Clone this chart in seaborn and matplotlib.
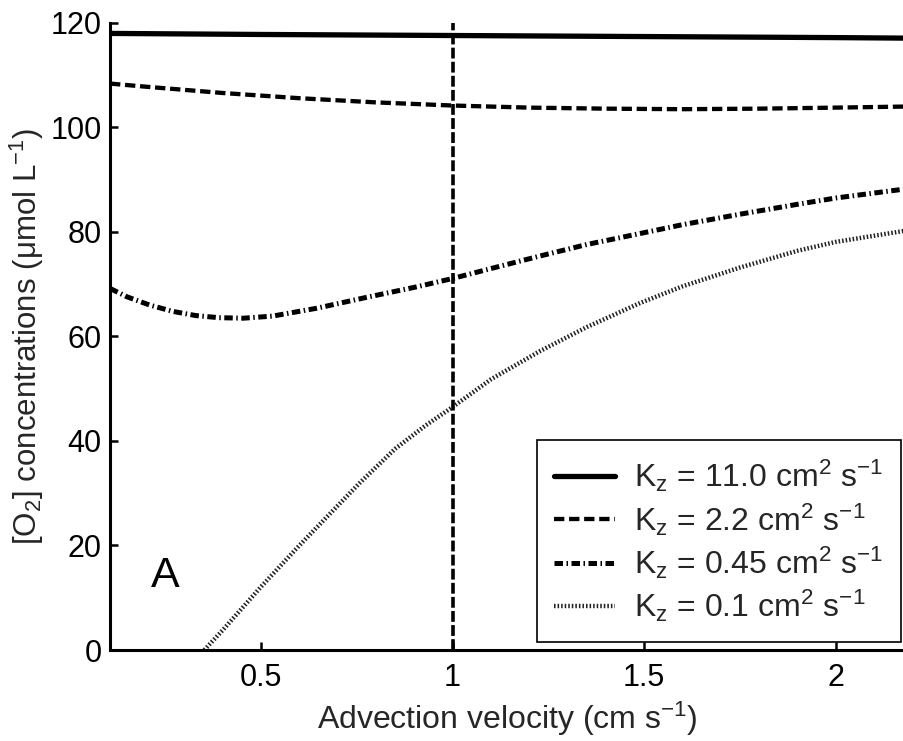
import matplotlib
matplotlib.use("Agg")
import matplotlib.pyplot as plt
import seaborn as sns
import pandas as pd

# ---- data ----
x_k110 = [0.106, 0.5, 1.0, 1.5, 2.0, 2.178]
y_k110 = [118.0, 117.8, 117.6, 117.4, 117.2, 117.1]

x_k22 = [0.106, 0.2, 0.3, 0.4, 0.5, 0.6, 0.7, 0.8, 0.9, 1.0, 1.2, 1.4, 1.6, 1.8, 2.0, 2.178]
y_k22 = [108.4, 107.8, 107.2, 106.6, 106.1, 105.6, 105.2, 104.8, 104.5, 104.2, 103.8, 103.6, 103.5, 103.6, 103.8, 104.0]

x_k045 = [0.106, 0.15, 0.21, 0.27, 0.33, 0.39, 0.454, 0.53, 0.645, 0.776, 0.906, 1.0, 1.1,
          1.228, 1.35, 1.489, 1.6, 1.75, 1.9, 2.0, 2.178]
y_k045 = [69.2, 67.6, 66.0, 64.8, 64.0, 63.6, 63.5, 63.9, 65.4, 67.5, 69.5, 71.1, 73.0,
          75.4, 77.6, 79.7, 81.4, 83.4, 85.3, 86.5, 88.2]

x_k01 = [0.352, 0.4, 0.5, 0.6, 0.7, 0.758, 0.85, 0.93, 1.0, 1.1, 1.228, 1.35, 1.489, 1.6,
         1.75, 1.9, 2.0, 2.178]
y_k01 = [0.0, 3.8, 12.1, 20.0, 27.6, 32.0, 38.5, 43.0, 46.5, 51.8, 57.2, 61.8, 66.4, 69.6,
         73.2, 76.4, 78.1, 80.2]

labels = [r"K$_\mathregular{z}$ = 11.0 cm$^\mathregular{2}$ s$^\mathregular{-1}$",
          r"K$_\mathregular{z}$ = 2.2 cm$^\mathregular{2}$ s$^\mathregular{-1}$",
          r"K$_\mathregular{z}$ = 0.45 cm$^\mathregular{2}$ s$^\mathregular{-1}$",
          r"K$_\mathregular{z}$ = 0.1 cm$^\mathregular{2}$ s$^\mathregular{-1}$"]

x_ticks = [0.5, 1, 1.5, 2]
x_ticklabels = ["0.5", "1", "1.5", "2"]
y_ticks = [0, 20, 40, 60, 80, 100, 120]
x_marker = 1.0

# ---- styling ----
sns.set_theme(style="white")
plt.rcParams["font.family"] = ["Liberation Sans", "DejaVu Sans"]
plt.rcParams["mathtext.fontset"] = "custom"
plt.rcParams["mathtext.rm"] = "Liberation Sans"
plt.rcParams["mathtext.it"] = "Liberation Sans:italic"
plt.rcParams["mathtext.default"] = "regular"

fig = plt.figure(figsize=(9.04, 7.41), dpi=100)
ax = fig.add_axes([0.1217, 0.1228, 1.0 - 0.1217, 0.969 - 0.1228])

series = [
    (x_k110, y_k110, dict(linestyle="-", linewidth=3.8)),
    (x_k22, y_k22, dict(linestyle=(0, (2.4, 1.1)), linewidth=3.1)),
    (x_k045, y_k045, dict(linestyle=(0, (1.7, 0.7, 0.3, 0.7)), linewidth=3.6)),
    (x_k01, y_k01, dict(linestyle=(0, (0.35, 0.45)), linewidth=3.2)),
]
colors = ["black", "black", "black", "#222222"]
for (xs, ys, kw), lab, c in zip(series, labels, colors):
    df = pd.DataFrame({"x": xs, "y": ys})
    sns.lineplot(data=df, x="x", y="y", ax=ax, color=c, label=lab, **kw)

ax.axvline(x_marker, color="black", linewidth=2.6, linestyle=(0, (3.0, 0.9)))

ax.set_xlim(0.106, 2.178)
ax.set_ylim(0, 120)
ax.set_xticks(x_ticks)
ax.set_xticklabels(x_ticklabels)
ax.set_yticks(y_ticks)

for s in ["top", "right"]:
    ax.spines[s].set_visible(False)
for s in ["left", "bottom"]:
    ax.spines[s].set_linewidth(2.2)
    ax.spines[s].set_color("black")

ax.tick_params(axis="both", direction="in", length=6, width=1.8, labelsize=22,
               colors="black", left=True, bottom=True)
ax.tick_params(axis="x", pad=9)
ax.tick_params(axis="y", pad=6)

ax.set_xlabel(r"Advection velocity (cm s$^\mathregular{-1}$)", fontsize=23, labelpad=5)
ax.set_ylabel(r"[O$_\mathregular{2}$] concentrations ($\mathregular{\mu}$mol L$^\mathregular{-1}$)",
              fontsize=22.5, labelpad=3)

ax.text(0.214, 12, "A", fontsize=31, ha="left", va="baseline", color="black")

leg = ax.legend(loc="lower right", bbox_to_anchor=(901 / 904, 1 - 642 / 741),
                bbox_transform=fig.transFigure, fontsize=23, frameon=True,
                fancybox=False, shadow=False, handlelength=1.9, handletextpad=0.6,
                labelspacing=0.22, borderpad=0.55, borderaxespad=0.0)
leg.get_frame().set_edgecolor("black")
leg.get_frame().set_linewidth(1.2)
leg.get_frame().set_facecolor("white")
leg.get_frame().set_alpha(1.0)

ax.grid(False)
fig.savefig("out.png", dpi=100)
